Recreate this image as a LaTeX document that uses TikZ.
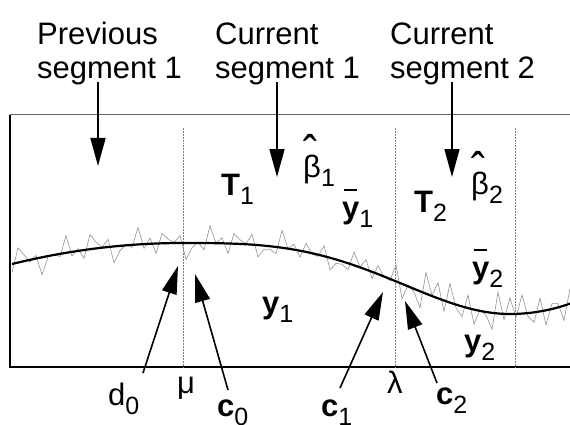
\documentclass[tikz,border=0pt]{standalone}
\usepackage{fontspec}
\setmainfont{Liberation Sans}
\usetikzlibrary{arrows.meta}
\newcommand\sublbl[2]{{#1}\raisebox{-9pt}{\fontsize{25}{25}\selectfont #2}}
\newcommand\hatb{\makebox[0pt][l]{\hspace{0.02em}\raisebox{0.22em}{\scalebox{1.35}[1.6]{ˆ}}}β}
\newcommand\bary{\makebox[0pt][l]{\hspace{0.07em}\raisebox{0.88em}{\rule{0.42em}{1.8pt}}}\textbf{y}}
\begin{document}
\begin{tikzpicture}[x=1pt,y=-1pt,
  declare function={
    fA(\x)=243+21*((183-\x)/171)^2;
    fB(\x)=278.5-35.5*cos(180*pow(max(0,min(1,(\x-183)/327)),1.5));
    fC(\x)=314-11*((\x-510)/62)^2;
    fit(\x)=(\x<183)*fA(\x)+and(\x>=183,\x<510)*fB(\x)+(\x>=510)*fC(\x);
    amp(\x)=(\x<395)*17+(\x>=395)*27;
    nz(\x)=0.55*sin(mod(\x,72)*97)+0.3*sin(mod(\x,72)*173+40)+0.25*sin(mod(\x,50)*131+10);
  },
  txt/.style={font=\fontsize{31}{34}\selectfont, inner sep=0pt},
  ptr/.style={line width=1.6pt, -{Triangle[width=15pt,length=28pt]}},
  seg/.style={gray, line width=0.5pt, densely dotted}]
\useasboundingbox (0,0) rectangle (570,425);
% box
\draw[gray!80!black, line width=1pt] (10,115) -- (570,115);
\draw[line width=1.8pt] (10,115) -- (10,367) -- (570,367);
% segment boundaries
\coordinate (m1) at (183,128); \coordinate (m2) at (183,367);
\coordinate (l1) at (395,128); \coordinate (l2) at (395,367);
\coordinate (e1) at (515,128); \coordinate (e2) at (515,367);
\draw[seg] (m1) -- (m2);
\draw[seg] (l1) -- (l2);
\draw[seg] (e1) -- (e2);
% noisy data
\draw[gray!85, line width=0.6pt] plot[variable=\x, samples at={12,18,...,572}] ({\x},{fit(\x)+amp(\x)*nz(\x)});
% smooth fit
\draw[line width=2.2pt] plot[smooth, variable=\x, samples at={12,22,...,572}] ({\x},{fit(\x)});
% top captions
\node[txt, anchor=base west, align=left] (prev) at (37,79) {Previous\\segment 1};
\node[txt, anchor=base west, align=left] (cur1) at (215,79) {Current\\segment 1};
\node[txt, anchor=base west, align=left] (cur2) at (390,79) {Current\\segment 2};
\coordinate (p0) at (98,82);  \coordinate (p1) at (98,166);
\coordinate (q0) at (277,82); \coordinate (q1) at (277,177);
\coordinate (r0) at (452,82); \coordinate (r1) at (452,177);
\draw[ptr] (p0) -- (p1);
\draw[ptr] (q0) -- (q1);
\draw[ptr] (r0) -- (r1);
% inner labels
\node[txt, anchor=base west] (T1) at (221,195) {\sublbl{\bfseries T}{1}};
\node[txt, anchor=base west] (B1) at (303,177) {\sublbl{\hatb}{1}};
\node[txt, anchor=base west] (Y1b) at (342,218) {\sublbl{\bary}{1}};
\node[txt, anchor=base west] (T2) at (414,212) {\sublbl{\bfseries T}{2}};
\node[txt, anchor=base west] (B2) at (471,194) {\sublbl{\hatb}{2}};
\node[txt, anchor=base west] (Y2b) at (472,278) {\sublbl{\bary}{2}};
\node[txt, anchor=base west] (Y1) at (262,313) {\sublbl{\bfseries y}{1}};
\node[txt, anchor=base west] (Y2) at (464,351) {\sublbl{\bfseries y}{2}};
% bottom labels
\node[txt, anchor=base west] (d0) at (108,405) {\sublbl{d}{0}};
\node[txt, anchor=base west] (mu) at (177,393) {μ};
\node[txt, anchor=base west] (c0) at (217,416) {\sublbl{\bfseries c}{0}};
\node[txt, anchor=base west] (c1) at (321,416) {\sublbl{\bfseries c}{1}};
\node[txt, anchor=base west] (lam) at (387,393) {λ};
\node[txt, anchor=base west] (c2) at (436,404) {\sublbl{\bfseries c}{2}};
\coordinate (d0s) at (143,373); \coordinate (d0t) at (178,266);
\coordinate (c0s) at (228,390); \coordinate (c0t) at (195,274);
\coordinate (c1s) at (340,388); \coordinate (c1t) at (383,292);
\coordinate (c2s) at (437,383); \coordinate (c2t) at (405,301);
\draw[ptr] (d0s) -- (d0t);
\draw[ptr] (c0s) -- (c0t);
\draw[ptr] (c1s) -- (c1t);
\draw[ptr] (c2s) -- (c2t);
\end{tikzpicture}
\end{document}
